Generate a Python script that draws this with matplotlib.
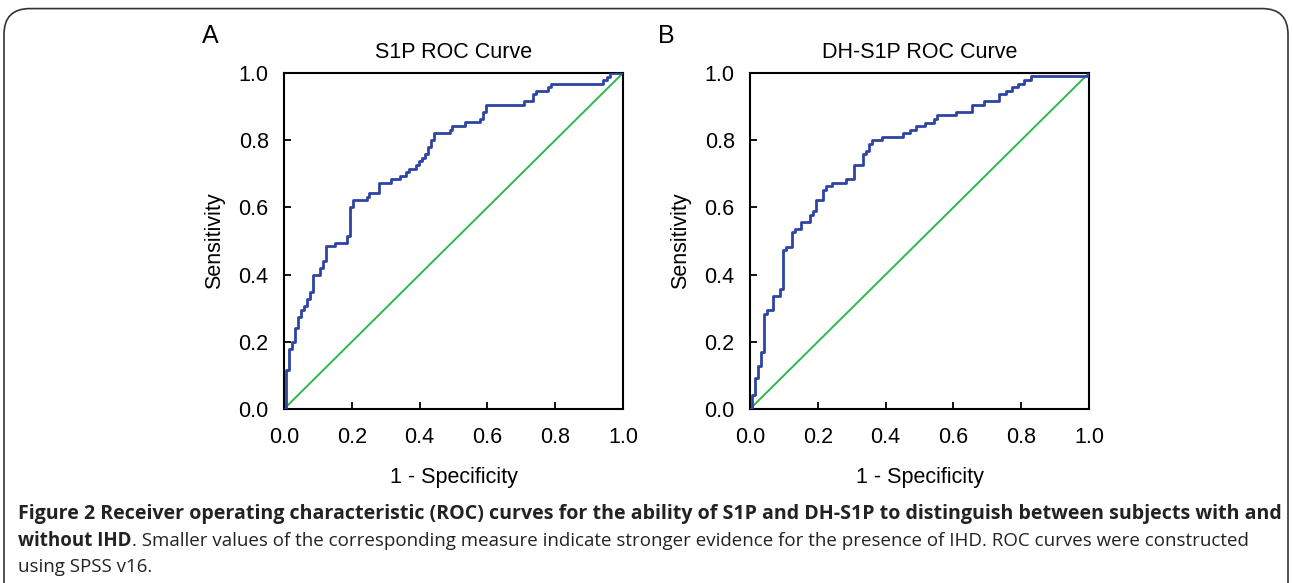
import matplotlib
matplotlib.use("Agg")
import matplotlib.pyplot as plt
from matplotlib.patches import FancyBboxPatch

plt.rcParams['font.family'] = ['Liberation Sans', 'DejaVu Sans']

# ROC step points (1 - specificity, sensitivity)
s1p_fpr = [0.0, 0.006, 0.015, 0.024, 0.032, 0.041, 0.050, 0.060, 0.069, 0.078, 0.087,
           0.105, 0.115, 0.124, 0.151, 0.187, 0.196, 0.205, 0.244, 0.251, 0.279,
           0.315, 0.342, 0.361, 0.370, 0.388, 0.398, 0.407, 0.417, 0.425, 0.434,
           0.443, 0.489, 0.497, 0.533, 0.579, 0.586, 0.597, 0.707, 0.735, 0.743,
           0.780, 0.789, 0.942, 0.953, 0.962, 1.0]
s1p_tpr = [0.0, 0.115, 0.179, 0.200, 0.242, 0.273, 0.296, 0.306, 0.327, 0.348, 0.400,
           0.420, 0.441, 0.484, 0.495, 0.516, 0.600, 0.621, 0.631, 0.642, 0.674,
           0.684, 0.694, 0.706, 0.715, 0.726, 0.737, 0.748, 0.758, 0.779, 0.800,
           0.821, 0.831, 0.842, 0.853, 0.863, 0.885, 0.906, 0.916, 0.937, 0.946,
           0.957, 0.968, 0.978, 0.989, 1.0, 1.0]

dh_fpr = [0.0, 0.005, 0.014, 0.023, 0.032, 0.041, 0.050, 0.069, 0.088, 0.096, 0.105,
          0.124, 0.133, 0.151, 0.178, 0.187, 0.196, 0.214, 0.224, 0.242, 0.282,
          0.306, 0.334, 0.342, 0.352, 0.361, 0.390, 0.452, 0.471, 0.489, 0.516,
          0.544, 0.553, 0.608, 0.654, 0.690, 0.735, 0.754, 0.773, 0.791, 0.809,
          0.828, 0.997, 1.0]
dh_tpr = [0.0, 0.043, 0.092, 0.127, 0.169, 0.284, 0.295, 0.336, 0.358, 0.472, 0.483,
          0.526, 0.536, 0.558, 0.578, 0.589, 0.621, 0.653, 0.663, 0.674, 0.684,
          0.726, 0.758, 0.769, 0.790, 0.800, 0.810, 0.820, 0.831, 0.842, 0.852,
          0.863, 0.874, 0.884, 0.906, 0.916, 0.938, 0.947, 0.957, 0.968, 0.978,
          0.990, 1.0, 1.0]

ticks = [0.0, 0.2, 0.4, 0.6, 0.8, 1.0]
tick_labels = ['0.0', '0.2', '0.4', '0.6', '0.8', '1.0']

panels = [("A", "S1P ROC Curve", s1p_fpr, s1p_tpr, 284, 202),
          ("B", "DH-S1P ROC Curve", dh_fpr, dh_tpr, 750, 658)]

caption1 = ("Figure 2 Receiver operating characteristic (ROC) curves for the ability of S1P and "
            "DH-S1P to distinguish between subjects with and")
caption2_bold = "without IHD"
caption2 = (". Smaller values of the corresponding measure indicate stronger evidence for the "
            "presence of IHD. ROC curves were constructed")
caption3 = "using SPSS v16."

W, H = 1293, 583
fig = plt.figure(figsize=(W / 100, H / 100), dpi=100)

# rounded frame around figure
frame = FancyBboxPatch((4 / W, -0.2), (W - 9) / W, (H - 8) / H + 0.2 - 0.001,
                       boxstyle="round,pad=0,rounding_size=0.02",
                       transform=fig.transFigure, fill=False,
                       edgecolor='#333333', linewidth=1.2, mutation_aspect=W / H)
fig.patches.append(frame)

for letter, title, fpr, tpr, left, letter_x in panels:
    ax = fig.add_axes([left / W, (H - 409) / H, 339 / W, 336 / H])
    ax.step(fpr, tpr, where='post', color='#2e44a3', lw=2.0, zorder=3)
    ax.plot([0, 1], [0, 1], color='#2db84a', lw=1.4, zorder=2)
    ax.set_xlim(0, 1)
    ax.set_ylim(0, 1)
    ax.set_xticks(ticks)
    ax.set_xticklabels(tick_labels)
    ax.set_yticks(ticks)
    ax.set_yticklabels(tick_labels)
    ax.tick_params(direction='in', length=5, width=1.3, labelsize=15.5)
    ax.tick_params(axis='x', pad=13)
    ax.tick_params(axis='y', pad=11)
    for sp in ax.spines.values():
        sp.set_linewidth(1.5)
    ax.set_title(title, fontsize=15.5, pad=11)
    ax.set_xlabel("1 - Specificity", fontsize=15.5, labelpad=14)
    ax.set_ylabel("Sensitivity", fontsize=15.5, labelpad=10)
    fig.text(letter_x / W, 1 - 36 / H, letter, fontsize=18, va='center', ha='left')

# caption
cap_font = ['Liberation Sans Narrow', 'Open Sans', 'DejaVu Sans']
fs0 = 13
t1 = fig.text(18 / W, 1 - 514 / H, caption1, fontsize=fs0, fontweight='bold',
              family=cap_font, va='center', ha='left', color='#222222')
t2 = fig.text(18 / W, 1 - 541 / H, caption2_bold, fontsize=fs0, fontweight='bold',
              family=cap_font, va='center', ha='left', color='#222222')
t2b = fig.text(18 / W, 1 - 541 / H, caption2, fontsize=fs0,
               family=cap_font, va='center', ha='left', color='#222222')
t3 = fig.text(18 / W, 1 - 567 / H, caption3, fontsize=fs0, family=cap_font,
              va='center', ha='left', color='#222222')

# fit caption widths to the reference line lengths
fig.canvas.draw()
r = fig.canvas.get_renderer()
w1 = t1.get_window_extent(r).width
w2 = t2.get_window_extent(r).width + t2b.get_window_extent(r).width
fs = fs0 * 1228 / w2
t1.set_fontsize(fs0 * 1256 / w1)
for t in (t2, t2b, t3):
    t.set_fontsize(fs)
fig.canvas.draw()
wb = t2.get_window_extent(r).width
t2b.set_x((18 + wb) / W)

fig.savefig("out.png", dpi=100)
